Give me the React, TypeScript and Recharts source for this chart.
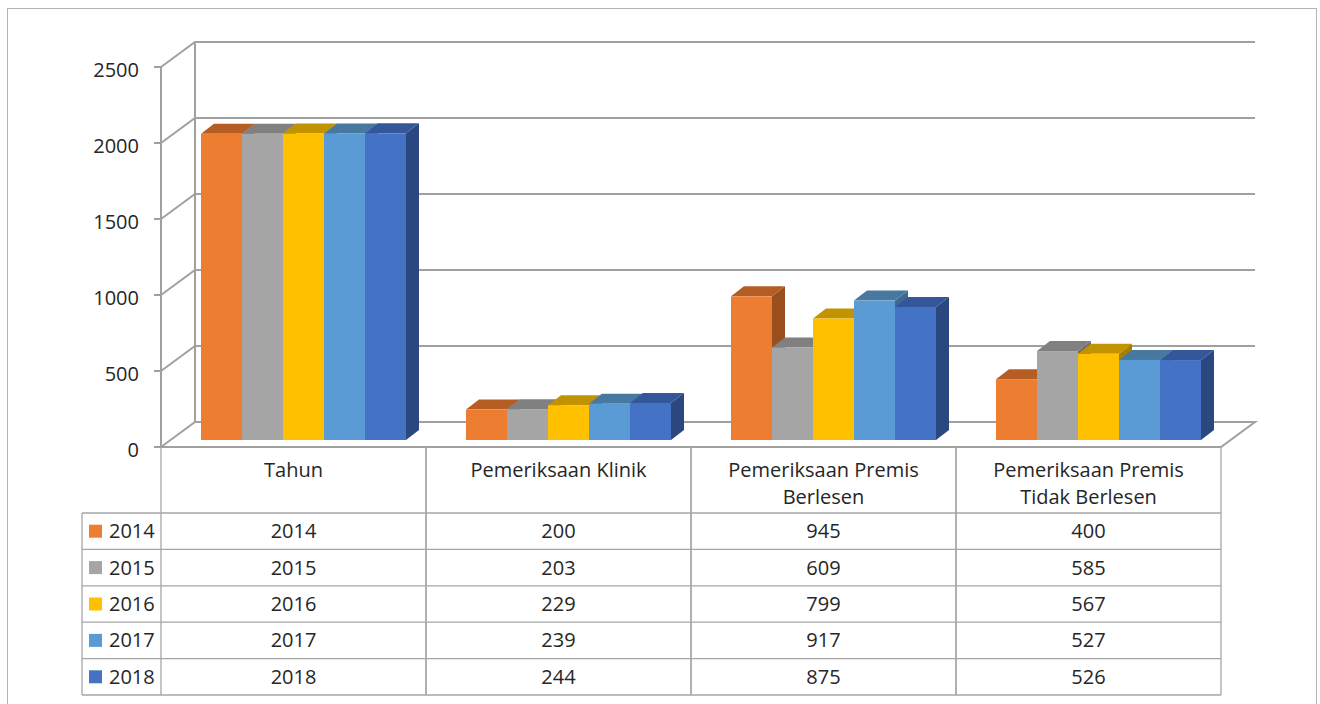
import { Bar, BarChart, CartesianGrid, XAxis, YAxis } from 'recharts';

const categories = ['Tahun', 'Pemeriksaan Klinik', 'Pemeriksaan Premis Berlesen', 'Pemeriksaan Premis Tidak Berlesen'];
const headerLines = [['Tahun'], ['Pemeriksaan Klinik'], ['Pemeriksaan Premis', 'Berlesen'], ['Pemeriksaan Premis', 'Tidak Berlesen']];
const seriesNames = ['2014', '2015', '2016', '2017', '2018'];
const values2014 = [2014, 200, 945, 400];
const values2015 = [2015, 203, 609, 585];
const values2016 = [2016, 229, 799, 567];
const values2017 = [2017, 239, 917, 527];
const values2018 = [2018, 244, 875, 526];
const yTicks = [0, 500, 1000, 1500, 2000, 2500];

const seriesValues = [values2014, values2015, values2016, values2017, values2018];
const frontColors = ['#ED7D31', '#A5A5A5', '#FFC000', '#5B9BD5', '#4472C4'];
const topColors = ['#B65D24', '#808080', '#C29300', '#47789F', '#34579A'];
const sideColors = ['#9B4F1D', '#6E6E6E', '#A67E00', '#3D6890', '#2B4780'];

const data = categories.map((name, i) => {
  const row: Record<string, string | number> = { name };
  seriesNames.forEach((s, j) => {
    row[s] = seriesValues[j][i];
  });
  return row;
});

// layout
const W = 1320;
const H = 704;
const LEFT = 161;
const RIGHT = 99;
const TOP = 67;
const FLOOR_Y = 447;
const BAND = (W - LEFT - RIGHT) / categories.length;
const WALL_DX = 34;
const WALL_DY = -25;
const BAR_SX = 10;
const BAR_SY = -7;
const DEPTH_DX = 13;
const DEPTH_DY = -10;
const HEADER_BOTTOM = 513;
const ROW_H = 36.4;
const FONT = '"Open Sans", sans-serif';
const TEXT = '#262626';
const GRID = '#a0a0a0';
const TABLE_LINE = '#a6a6a6';

function Bar3D(props: any) {
  const { x, y, width, height, series } = props;
  if (width == null || height == null) return null;
  const x0 = x + BAR_SX;
  const y0 = y + BAR_SY;
  const w = width;
  const h = height;
  const top = `${x0},${y0} ${x0 + DEPTH_DX},${y0 + DEPTH_DY} ${x0 + w + DEPTH_DX},${y0 + DEPTH_DY} ${x0 + w},${y0}`;
  const side = `${x0 + w},${y0} ${x0 + w + DEPTH_DX},${y0 + DEPTH_DY} ${x0 + w + DEPTH_DX},${y0 + h + DEPTH_DY} ${x0 + w},${y0 + h}`;
  return (
    <g>
      <polygon points={side} fill={sideColors[series]} />
      <polygon points={top} fill={topColors[series]} />
      <rect x={x0} y={y0} width={w} height={h} fill={frontColors[series]} />
    </g>
  );
}

function GridLine(props: any) {
  const { x1, x2, y1 } = props;
  const isFloor = Math.abs(y1 - FLOOR_Y) < 1;
  const bx = x1 + WALL_DX;
  const by = y1 + WALL_DY;
  return (
    <g key={props.key}>
      <path
        d={`M${x1},${y1} L${bx},${by} L${x2 + WALL_DX},${by}${isFloor ? ` L${x2},${y1} Z` : ''}`}
        fill="none"
        stroke={GRID}
        strokeWidth={2}
      />
      {!isFloor && <line x1={bx} y1={by} x2={bx} y2={FLOOR_Y + WALL_DY} stroke={GRID} strokeWidth={2} />}
    </g>
  );
}

function YTick({ x, y, payload }: any) {
  return (
    <text x={x} y={y + 10} textAnchor="end" fontFamily={FONT} fontSize={20} fill={TEXT}>
      {payload.value}
    </text>
  );
}

function TableColumn({ x, payload }: any) {
  const i = payload.index;
  const left = x - BAND / 2;
  const right = x + BAND / 2;
  const rowLines = seriesNames.map((_, j) => HEADER_BOTTOM + ROW_H * j);
  const tableBottom = HEADER_BOTTOM + ROW_H * seriesNames.length;
  const lines = headerLines[i];
  return (
    <g>
      <line x1={left} y1={FLOOR_Y} x2={left} y2={tableBottom} stroke={TABLE_LINE} strokeWidth={1.3} />
      <line x1={right} y1={FLOOR_Y} x2={right} y2={tableBottom} stroke={TABLE_LINE} strokeWidth={1.3} />
      {[...rowLines, tableBottom].map((ry) => (
        <line key={ry} x1={left} y1={ry} x2={right} y2={ry} stroke={TABLE_LINE} strokeWidth={1.3} />
      ))}
      {lines.map((t, k) => (
        <text key={t} x={x} y={477 + k * 27} textAnchor="middle" fontFamily={FONT} fontSize={20} fill={TEXT}>
          {t}
        </text>
      ))}
      {seriesNames.map((s, j) => (
        <text key={s} x={x} y={HEADER_BOTTOM + ROW_H * j + ROW_H / 2 + 7} textAnchor="middle" fontFamily={FONT} fontSize={20} fill={TEXT}>
          {seriesValues[j][i]}
        </text>
      ))}
      {i === 0 && (
        <g>
          <line x1={82} y1={HEADER_BOTTOM} x2={82} y2={tableBottom} stroke={TABLE_LINE} strokeWidth={1.3} />
          {[...rowLines, tableBottom].map((ry) => (
            <line key={ry} x1={82} y1={ry} x2={left} y2={ry} stroke={TABLE_LINE} strokeWidth={1.3} />
          ))}
          {seriesNames.map((s, j) => {
            const cy = HEADER_BOTTOM + ROW_H * j + ROW_H / 2;
            return (
              <g key={s}>
                <rect x={89} y={cy - 6.5} width={13} height={13} fill={frontColors[j]} />
                <text x={109} y={cy + 7} fontFamily={FONT} fontSize={20} fill={TEXT}>
                  {s}
                </text>
              </g>
            );
          })}
        </g>
      )}
    </g>
  );
}

export default function App() {
  return (
    <div style={{ position: 'absolute', left: 0, top: 0, width: W, height: H, background: '#fff' }}>
      <BarChart
        width={W}
        height={H}
        data={data}
        margin={{ top: TOP, right: RIGHT, left: 0, bottom: 0 }}
        barGap={0}
        barSize={41}
      >
        <CartesianGrid horizontal={(p: any) => <GridLine {...p} />} vertical={false} />
        <XAxis
          dataKey="name"
          height={H - FLOOR_Y}
          axisLine={false}
          tickLine={false}
          interval={0}
          tick={(p: any) => <TableColumn {...p} />}
        />
        <YAxis
          width={LEFT}
          domain={[0, 2500]}
          ticks={yTicks}
          axisLine={{ stroke: GRID, strokeWidth: 2 }}
          tickLine={{ stroke: GRID, strokeWidth: 2 }}
          tickSize={7}
          tickMargin={15}
          tick={(p: any) => <YTick {...p} />}
        />
        {seriesNames.map((s, j) => (
          <Bar key={s} dataKey={s} isAnimationActive={false} shape={(p: any) => <Bar3D {...p} series={j} />} />
        ))}
      </BarChart>
      <div
        style={{
          position: 'absolute',
          left: 7,
          top: 8,
          width: 1310,
          height: 700,
          border: '1px solid #b4b4b4',
          boxSizing: 'border-box',
          pointerEvents: 'none',
        }}
      />
    </div>
  );
}
